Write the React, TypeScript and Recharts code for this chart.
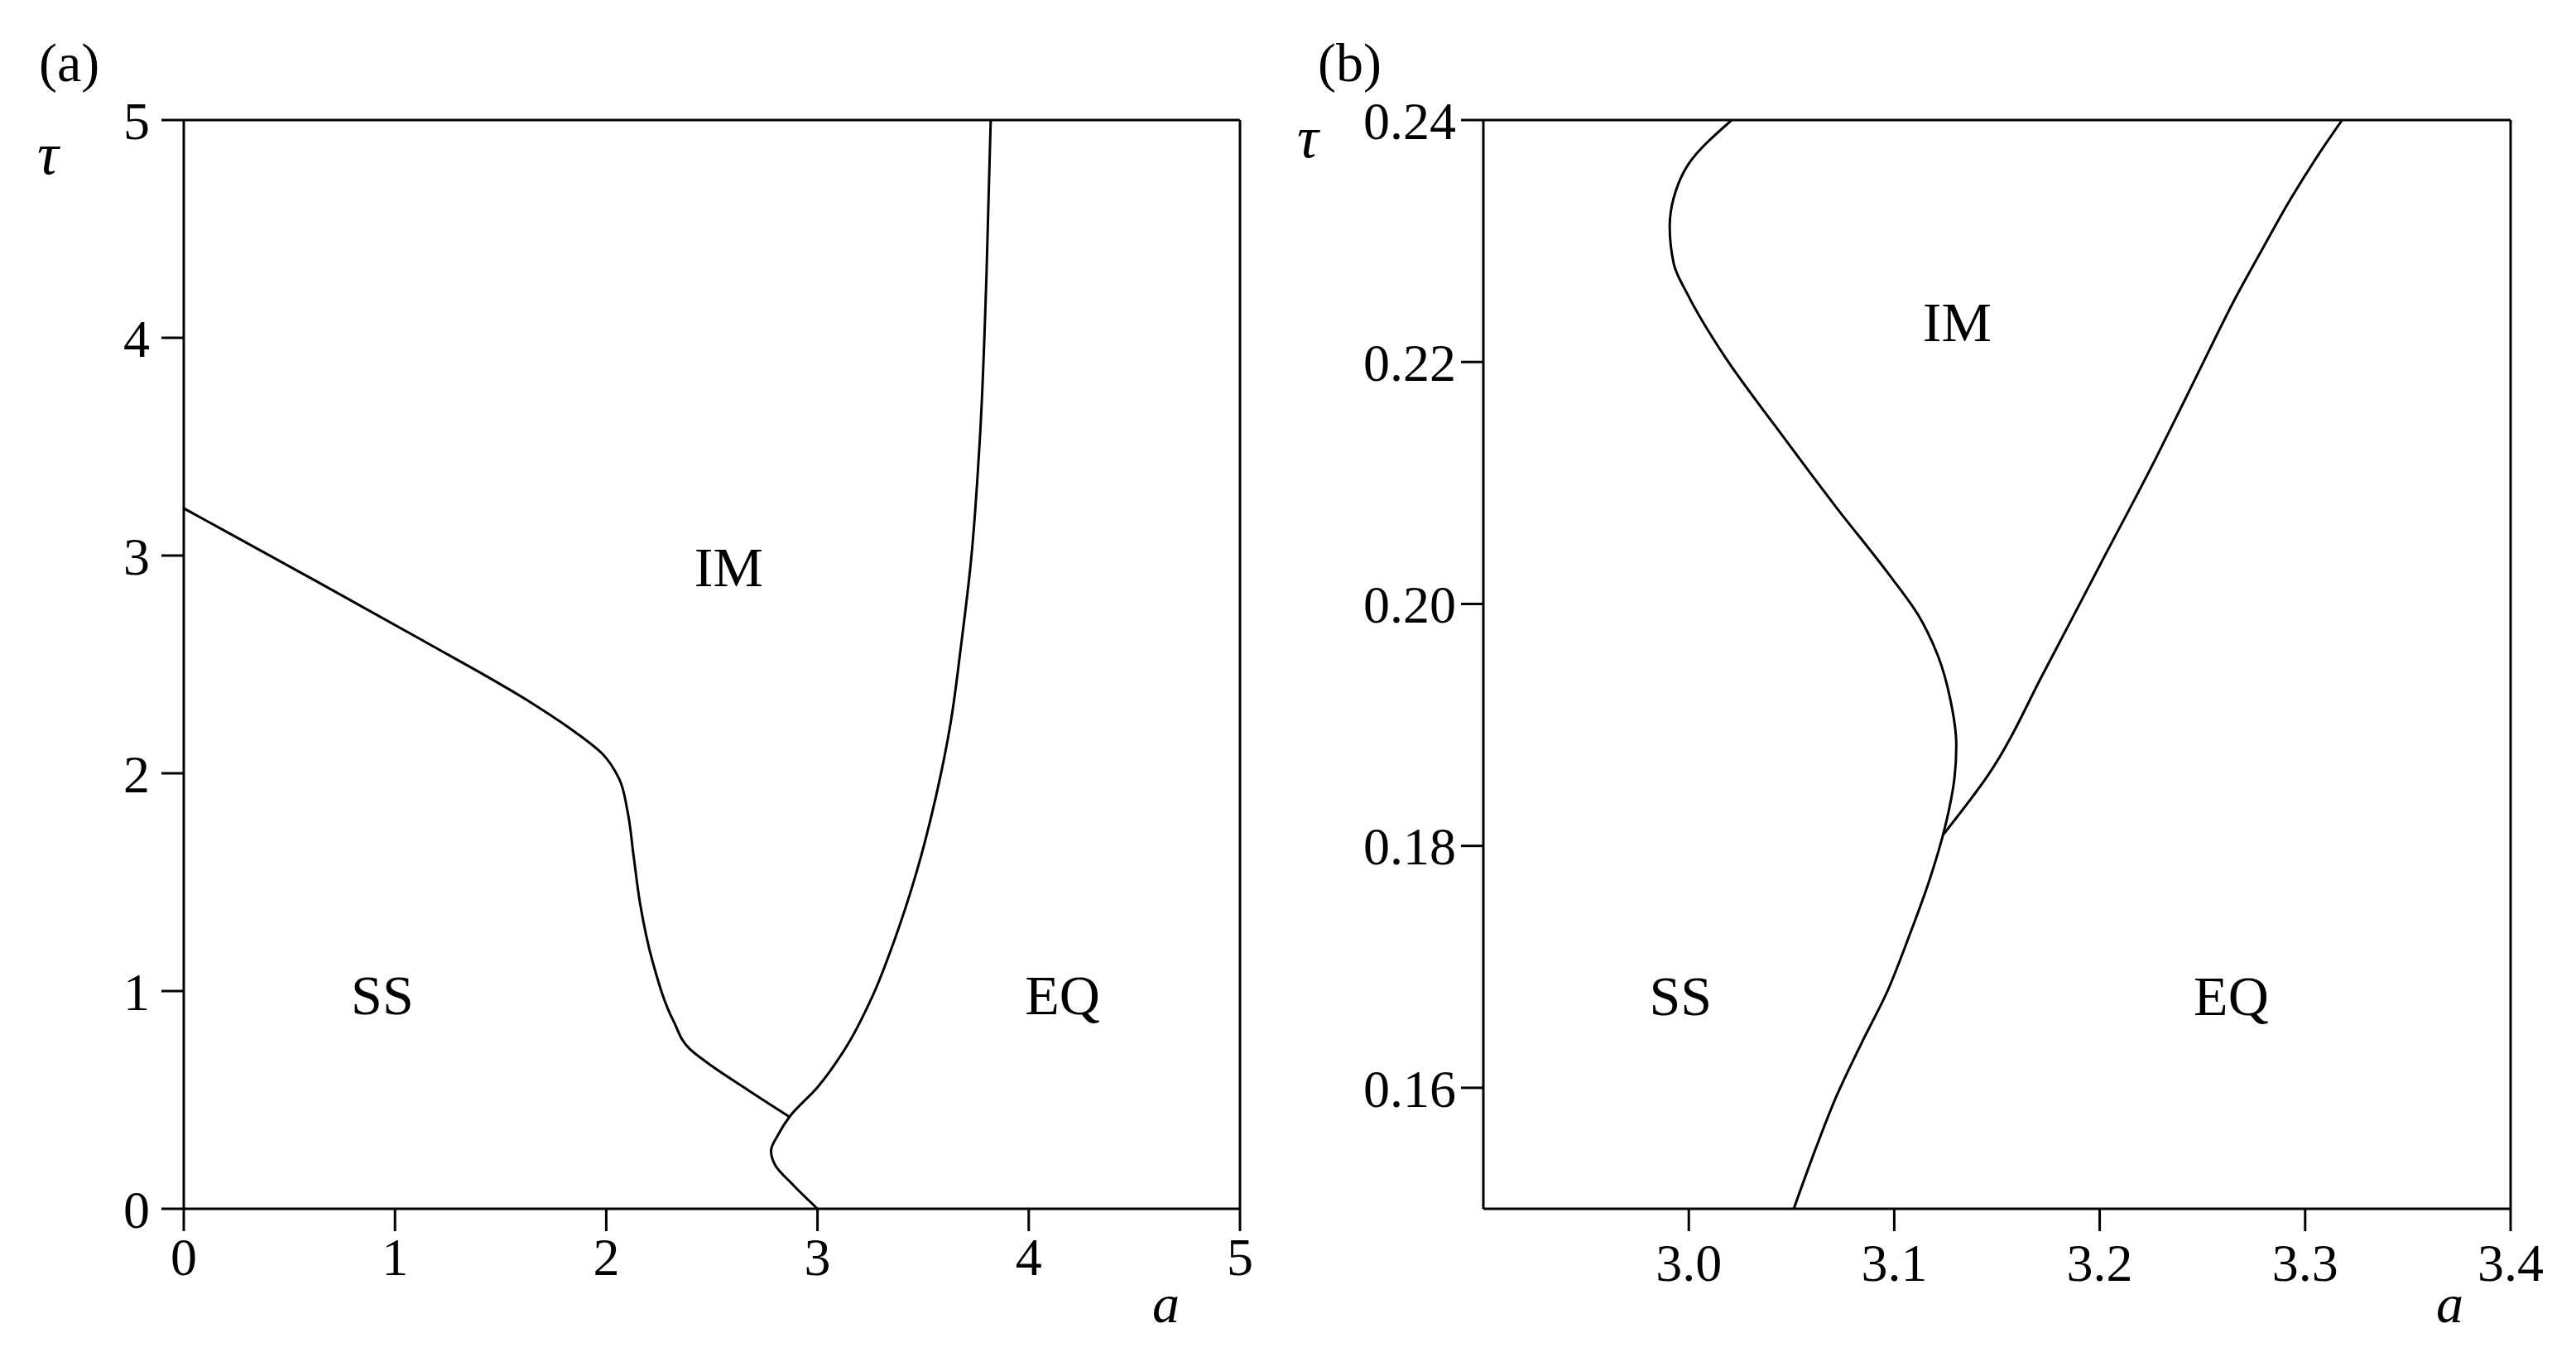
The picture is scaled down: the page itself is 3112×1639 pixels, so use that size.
import { LineChart, Line, XAxis, YAxis, ReferenceLine, ReferenceDot } from "recharts";

// Phase diagrams in the (a, tau) plane: SS / IM / EQ regions.
// Boundary curves; points ordered by tau descending
// so monotoneY interpolation keeps the bends smooth without overshoot.

const FONT = '"Liberation Serif", "Times New Roman", serif';
const INK = "#000";

// ---- panel (a)
const ticksA = [0, 1, 2, 3, 4, 5];

const ssImA = [
  { a: 0, t: 3.217 },
  { a: 0.6, t: 2.897 },
  { a: 1.12, t: 2.616 },
  { a: 1.64, t: 2.327 },
  { a: 1.84, t: 2.198 },
  { a: 1.98, t: 2.091 },
  { a: 2.06, t: 1.977 },
  { a: 2.1, t: 1.829 },
  { a: 2.13, t: 1.616 },
  { a: 2.16, t: 1.403 },
  { a: 2.22, t: 1.133 },
  { a: 2.32, t: 0.859 },
  { a: 2.395, t: 0.734 },
  { a: 2.475, t: 0.673 },
  { a: 2.67, t: 0.546 },
  { a: 2.865, t: 0.424 },
];

const imEqA = [
  { a: 3.82, t: 5.0 },
  { a: 3.8, t: 4.29 },
  { a: 3.77, t: 3.56 },
  { a: 3.725, t: 2.96 },
  { a: 3.68, t: 2.59 },
  { a: 3.63, t: 2.23 },
  { a: 3.56, t: 1.89 },
  { a: 3.47, t: 1.55 },
  { a: 3.365, t: 1.236 },
  { a: 3.26, t: 0.976 },
  { a: 3.13, t: 0.734 },
  { a: 3.0, t: 0.558 },
  { a: 2.867, t: 0.422 },
  { a: 2.815, t: 0.342 },
  { a: 2.78, t: 0.266 },
  { a: 2.8, t: 0.2 },
  { a: 2.88, t: 0.114 },
  { a: 3.0, t: 0.0 },
];

const regionsA = [
  { name: "IM", a: 2.58, t: 2.95 },
  { name: "SS", a: 0.94, t: 0.985 },
  { name: "EQ", a: 4.16, t: 0.985 },
];

// ---- panel (b), zoom near the triple point
const ticksBx = [3.0, 3.1, 3.2, 3.3, 3.4];
const ticksBy = [0.16, 0.18, 0.2, 0.22, 0.24];

const ssImB = [
  { a: 3.0209, t: 0.24 },
  { a: 3.0, t: 0.2364 },
  { a: 2.9927, t: 0.2336 },
  { a: 2.9907, t: 0.2312 },
  { a: 2.9927, t: 0.2281 },
  { a: 3.0, t: 0.2254 },
  { a: 3.0173, t: 0.2205 },
  { a: 3.0443, t: 0.2142 },
  { a: 3.0717, t: 0.208 },
  { a: 3.0967, t: 0.2026 },
  { a: 3.1116, t: 0.1991 },
  { a: 3.1213, t: 0.1957 },
  { a: 3.1273, t: 0.1921 },
  { a: 3.1302, t: 0.1883 },
  { a: 3.1293, t: 0.1856 },
  { a: 3.1269, t: 0.1832 },
  { a: 3.1237, t: 0.1809 },
  { a: 3.1168, t: 0.177 },
  { a: 3.1076, t: 0.1727 },
  { a: 3.0967, t: 0.168 },
  { a: 3.0838, t: 0.1636 },
  { a: 3.0721, t: 0.1594 },
  { a: 3.0616, t: 0.1549 },
  { a: 3.0511, t: 0.15 },
];

const imEqB = [
  { a: 3.318, t: 0.24 },
  { a: 3.3063, t: 0.2371 },
  { a: 3.293, t: 0.2335 },
  { a: 3.2797, t: 0.2295 },
  { a: 3.2664, t: 0.2254 },
  { a: 3.2531, t: 0.2209 },
  { a: 3.2398, t: 0.2163 },
  { a: 3.2269, t: 0.2119 },
  { a: 3.2007, t: 0.2034 },
  { a: 3.1733, t: 0.1945 },
  { a: 3.1459, t: 0.1859 },
  { a: 3.1237, t: 0.1809 },
];

const regionsB = [
  { name: "IM", a: 3.1306, t: 0.2234 },
  { name: "SS", a: 2.996, t: 0.1677 },
  { name: "EQ", a: 3.264, t: 0.1677 },
];

type Pt = { a: number; t: number };
type Region = { name: string; a: number; t: number };

type PanelProps = {
  width: number;
  margin: { top: number; right: number; bottom: number; left: number };
  xDomain: [number, number];
  yDomain: [number, number];
  xTicks: number[];
  yTicks: number[];
  xFmt: (v: number) => string;
  yFmt: (v: number) => string;
  xTickMargin: number;
  yTickMargin: number;
  curves: Pt[][];
  regions: Region[];
};

const tickStyle = { fontSize: 64, fill: INK, fontFamily: FONT };
const axisStroke = { stroke: INK, strokeWidth: 3 };

function Panel(p: PanelProps) {
  return (
    <LineChart width={p.width} height={1639} margin={p.margin}>
      <XAxis
        type="number"
        dataKey="a"
        domain={p.xDomain}
        ticks={p.xTicks}
        tickFormatter={p.xFmt}
        allowDataOverflow
        height={100}
        tickSize={27}
        tickMargin={p.xTickMargin}
        axisLine={axisStroke}
        tickLine={axisStroke}
        tick={tickStyle}
        interval={0}
      />
      <YAxis
        type="number"
        dataKey="t"
        domain={p.yDomain}
        ticks={p.yTicks}
        tickFormatter={p.yFmt}
        allowDataOverflow
        width={150}
        tickSize={27}
        tickMargin={p.yTickMargin}
        axisLine={axisStroke}
        tickLine={axisStroke}
        tick={tickStyle}
        interval={0}
      />
      <ReferenceLine y={p.yDomain[1]} stroke={INK} strokeWidth={3} />
      <ReferenceLine x={p.xDomain[1]} stroke={INK} strokeWidth={3} />
      {p.curves.map((c, i) => (
        <Line
          key={i}
          data={c}
          dataKey="t"
          type="monotoneY"
          stroke={INK}
          strokeWidth={3}
          dot={false}
          activeDot={false}
          isAnimationActive={false}
        />
      ))}
      {p.regions.map((r) => (
        <ReferenceDot
          key={r.name}
          x={r.a}
          y={r.t}
          r={0}
          fill="none"
          stroke="none"
          label={{ value: r.name, position: "center", fontSize: 68, fill: INK, fontFamily: FONT }}
        />
      ))}
    </LineChart>
  );
}

const textBase: React.CSSProperties = {
  position: "absolute",
  fontFamily: FONT,
  fontSize: 66,
  lineHeight: 1,
  color: INK,
  whiteSpace: "nowrap",
};

export default function App() {
  return (
    <div style={{ position: "absolute", left: 0, top: 0, width: 3112, height: 1639, background: "#fff" }}>
      <div style={{ position: "absolute", left: 0, top: 0 }}>
        <Panel
          width={1560}
          margin={{ top: 145, right: 62, bottom: 79, left: 72 }}
          xDomain={[0, 5]}
          yDomain={[0, 5]}
          xTicks={ticksA}
          yTicks={ticksA}
          xFmt={(v) => String(v)}
          yFmt={(v) => String(v)}
          xTickMargin={8}
          yTickMargin={14}
          curves={[ssImA, imEqA]}
          regions={regionsA}
        />
      </div>
      <div style={{ position: "absolute", left: 1560, top: 0 }}>
        <Panel
          width={1552}
          margin={{ top: 145, right: 79, bottom: 79, left: 82 }}
          xDomain={[2.9, 3.4]}
          yDomain={[0.15, 0.24]}
          xTicks={ticksBx}
          yTicks={ticksBy}
          xFmt={(v) => v.toFixed(1)}
          yFmt={(v) => v.toFixed(2)}
          xTickMargin={15}
          yTickMargin={6}
          curves={[ssImB, imEqB]}
          regions={regionsB}
        />
      </div>
      <span style={{ ...textBase, left: 47, top: 43 }}>(a)</span>
      <span style={{ ...textBase, left: 45, top: 150, fontStyle: "italic", fontSize: 72 }}>τ</span>
      <span style={{ ...textBase, left: 1392, top: 1542, fontStyle: "italic" }}>a</span>
      <span style={{ ...textBase, left: 1592, top: 43 }}>(b)</span>
      <span style={{ ...textBase, left: 1567, top: 130, fontStyle: "italic", fontSize: 72 }}>τ</span>
      <span style={{ ...textBase, left: 2943, top: 1542, fontStyle: "italic" }}>a</span>
    </div>
  );
}
